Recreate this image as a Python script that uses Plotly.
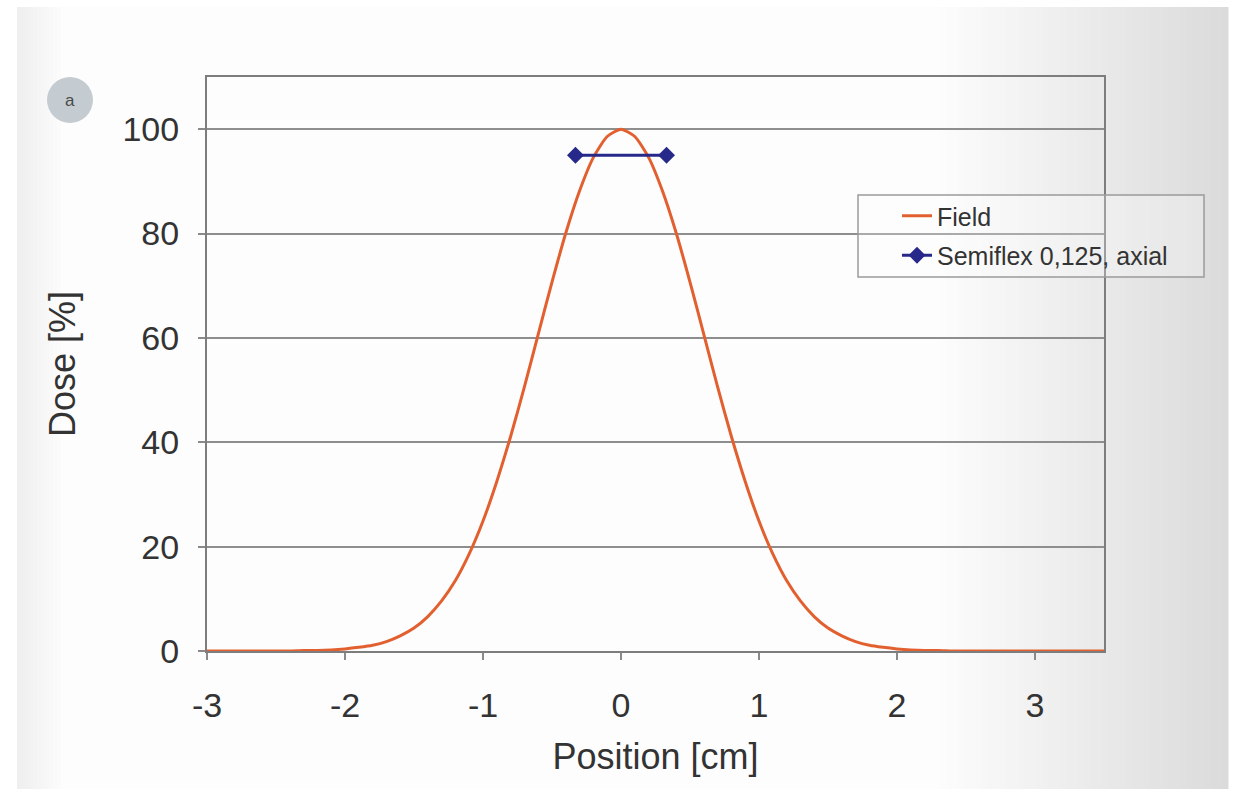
import plotly.graph_objects as go

# ---------------- data ----------------
positions = [-3.0, -2.9, -2.8, -2.7, -2.6, -2.5, -2.4, -2.3, -2.2, -2.1,
             -2.0, -1.9, -1.8, -1.7, -1.6, -1.5, -1.4, -1.3, -1.2, -1.1,
             -1.0, -0.9, -0.8, -0.7, -0.6, -0.5, -0.4, -0.3, -0.2, -0.1,
             0.0, 0.1, 0.2, 0.3, 0.4, 0.5, 0.6, 0.7, 0.8, 0.9,
             1.0, 1.1, 1.2, 1.3, 1.4, 1.5, 1.6, 1.7, 1.8, 1.9,
             2.0, 2.1, 2.2, 2.3, 2.4, 2.5, 2.6, 2.7, 2.8, 2.9,
             3.0, 3.1, 3.2, 3.3, 3.4, 3.5]
dose_field = [0.0, 0.0, 0.0, 0.0, 0.0, 0.0, 0.0, 0.1, 0.1, 0.2,
              0.4, 0.7, 1.1, 1.8, 2.9, 4.4, 6.6, 9.6, 13.5, 18.6,
              24.9, 32.5, 41.1, 50.6, 60.7, 70.7, 80.1, 88.2, 94.6, 98.6,
              100.0, 98.6, 94.6, 88.2, 80.1, 70.7, 60.7, 50.6, 41.1, 32.5,
              24.9, 18.6, 13.5, 9.6, 6.6, 4.4, 2.9, 1.8, 1.1, 0.7,
              0.4, 0.2, 0.1, 0.1, 0.0, 0.0, 0.0, 0.0, 0.0, 0.0,
              0.0, 0.0, 0.0, 0.0, 0.0, 0.0]
detector_x = [-0.33, 0.33]
detector_y = [95, 95]
x_ticks = [-3, -2, -1, 0, 1, 2, 3]
y_ticks = [0, 20, 40, 60, 80, 100]
series_names = ["Field", "Semiflex 0,125, axial"]
x_title = "Position [cm]"
y_title = "Dose [%]"
panel_label = "a"

# ---------------- layout helpers ----------------
W, H = 1240, 789
L, R, T, B = 207, 1104, 77, 651


def px(x):
    return (x - L) / (R - L)


def py(y):
    return (B - y) / (B - T)


FONT = "Liberation Sans, Arial, sans-serif"
TXT = "#333333"

fig = go.Figure()
fig.add_trace(go.Scatter(
    x=positions, y=dose_field, mode="lines", name=series_names[0],
    line=dict(color="#e2602f", width=3, shape="spline", smoothing=0.6),
    legendgroup="g1", cliponaxis=False))
fig.add_trace(go.Scatter(
    x=detector_x, y=detector_y, mode="lines+markers", name=series_names[1],
    line=dict(color="#26288a", width=3),
    marker=dict(symbol="diamond", size=13, color="#26288a"),
    legendgroup="g2", cliponaxis=False))

shapes = []
# panel background
shapes.append(dict(type="rect", xref="paper", yref="paper", layer="below",
                   x0=px(17), x1=px(1228), y0=py(7), y1=py(789),
                   fillcolor="#fdfdfd", line=dict(width=0)))
# left soft gradient
n = 12
for i in range(n):
    x0 = 17 + i * 4
    v = int(239 + (253 - 239) * i / (n - 1))
    shapes.append(dict(type="rect", xref="paper", yref="paper", layer="below",
                       x0=px(x0), x1=px(x0 + 4.5), y0=py(7), y1=py(789),
                       fillcolor=f"rgb({v},{v},{v})", line=dict(width=0)))
# right gradient
n = 48
x_start, x_end = 940, 1228
step = (x_end - x_start) / n
for i in range(n):
    x0 = x_start + i * step
    v = int(253 - (253 - 219) * (i + 0.5) / n)
    shapes.append(dict(type="rect", xref="paper", yref="paper", layer="below",
                       x0=px(x0), x1=px(x0 + step + 0.5), y0=py(7), y1=py(789),
                       fillcolor=f"rgb({v},{v},{v})", line=dict(width=0)))
# legend frame
shapes.append(dict(type="rect", xref="paper", yref="paper", layer="above",
                   x0=px(858), x1=px(1204), y0=py(195), y1=py(277),
                   fillcolor="rgba(255,255,255,0.25)",
                   line=dict(color="#9a9a9a", width=1.5)))
# panel label circle
shapes.append(dict(type="circle", xref="paper", yref="paper", layer="above",
                   x0=px(47), x1=px(93), y0=py(77), y1=py(123),
                   fillcolor="#c4ccd2", line=dict(width=0)))

fig.update_layout(
    width=W, height=H,
    margin=dict(l=L, r=W - R, t=T, b=H - B, autoexpand=False),
    paper_bgcolor="white",
    plot_bgcolor="rgba(0,0,0,0)",
    font=dict(family=FONT, color=TXT),
    shapes=shapes,
    showlegend=True,
    legend=dict(x=px(897), y=py(193), xanchor="left", yanchor="top",
                bgcolor="rgba(0,0,0,0)", borderwidth=0,
                font=dict(size=25, color=TXT, family=FONT),
                traceorder="grouped", tracegroupgap=4),
    annotations=[dict(text=panel_label, xref="paper", yref="paper",
                      x=px(70), y=py(100), xanchor="center", yanchor="middle",
                      showarrow=False,
                      font=dict(size=17, color="#4a4a4a", family=FONT))],
)

fig.update_xaxes(
    range=[-3, 3.5], tickvals=x_ticks, ticktext=[str(v) for v in x_ticks],
    showgrid=False, zeroline=False,
    showline=True, mirror=True, linecolor="#7d7d7d", linewidth=2,
    ticks="outside", ticklen=7, tickwidth=1.5, tickcolor="#8a8a8a",
    ticklabelstandoff=16,
    tickfont=dict(size=34, color=TXT, family=FONT),
    title=dict(text=x_title, font=dict(size=36, color=TXT, family=FONT), standoff=21),
    automargin=False,
)
fig.update_yaxes(
    range=[0, 110], tickvals=y_ticks, ticktext=[str(v) for v in y_ticks],
    showgrid=True, gridcolor="#8e8e8e", gridwidth=2, zeroline=False,
    showline=True, mirror=True, linecolor="#7d7d7d", linewidth=2,
    ticks="outside", ticklen=7, tickwidth=1.5, tickcolor="#8a8a8a",
    ticklabelstandoff=12,
    tickfont=dict(size=34, color=TXT, family=FONT),
    title=dict(text=y_title, font=dict(size=36, color=TXT, family=FONT), standoff=36),
    automargin=False,
)

fig.write_html("out.html")
